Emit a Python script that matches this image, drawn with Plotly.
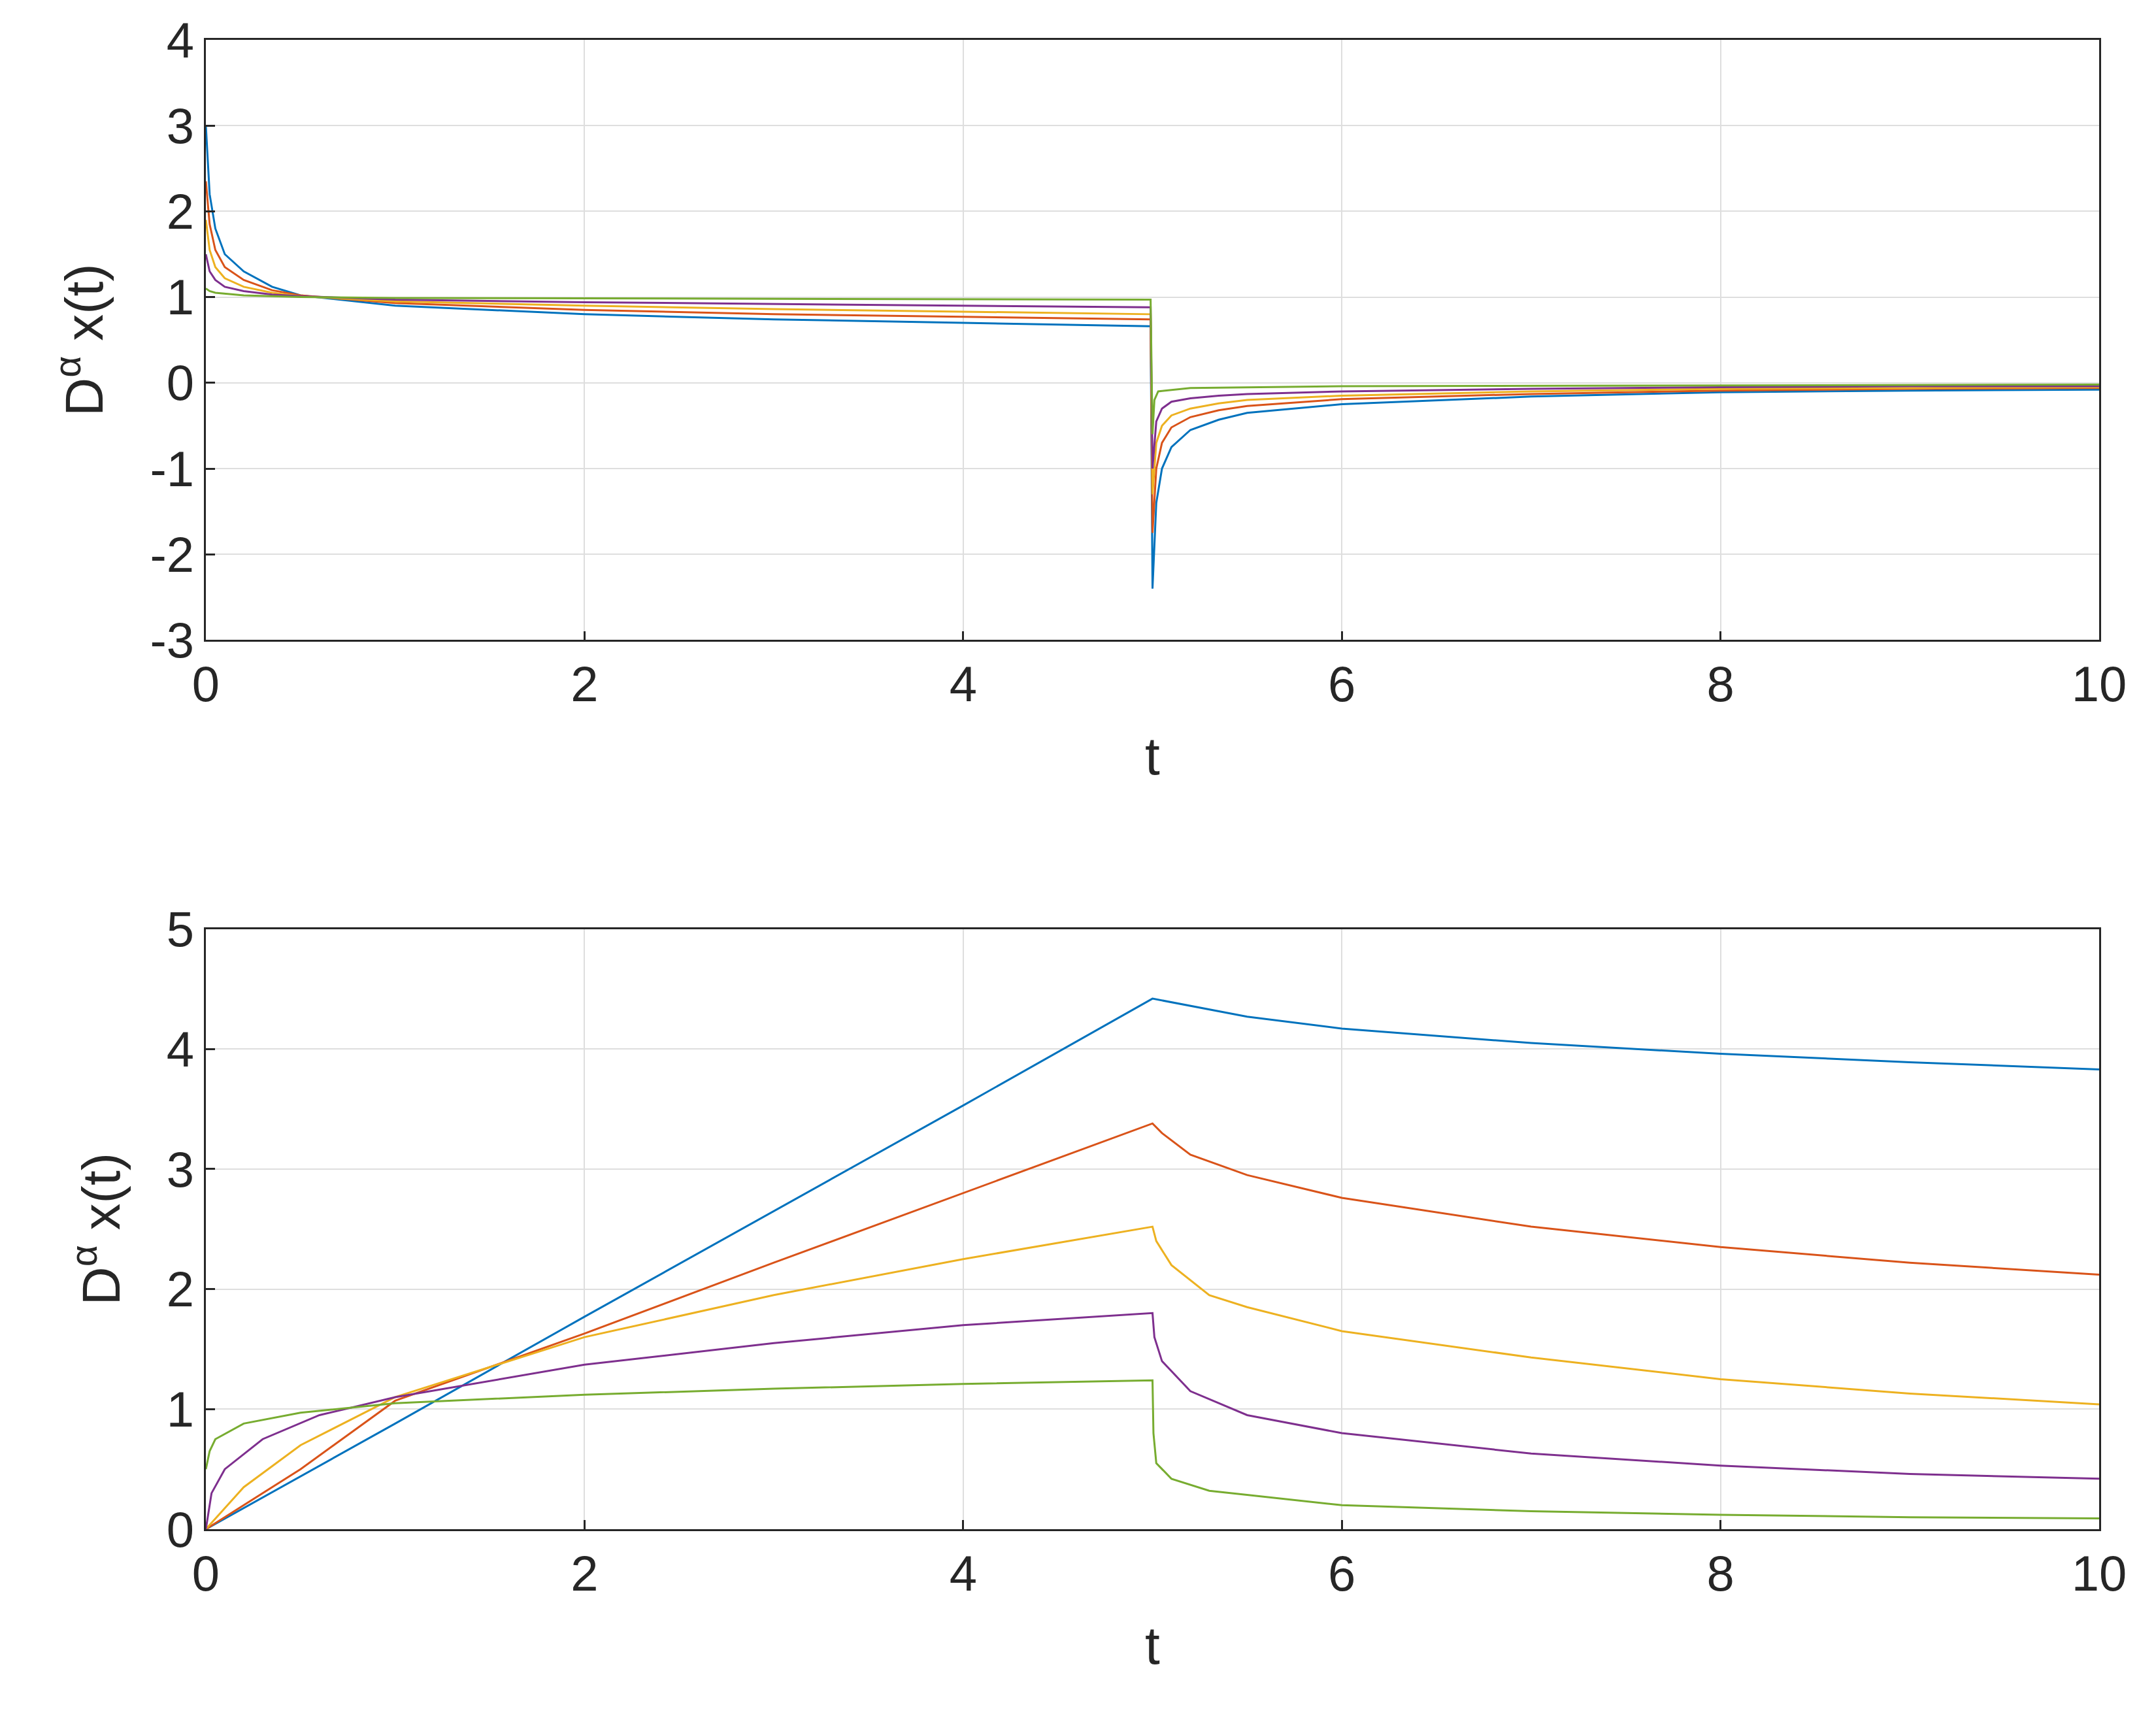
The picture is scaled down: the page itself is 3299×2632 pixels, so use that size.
import plotly.graph_objects as go
from plotly.subplots import make_subplots

colors = ["#0072BD", "#D95319", "#EDB120", "#7E2F8E", "#77AC30"]

# Top panel
top_t = [
    [0, 0.02, 0.05, 0.1, 0.2, 0.35, 0.5, 1, 2, 3, 4, 4.99, 5.0, 5.02, 5.05, 5.1, 5.2, 5.35, 5.5, 6, 7, 8, 9, 10],
    [0, 0.02, 0.05, 0.1, 0.2, 0.35, 0.5, 1, 2, 3, 4, 4.99, 5.0, 5.02, 5.05, 5.1, 5.2, 5.35, 5.5, 6, 7, 8, 9, 10],
    [0, 0.02, 0.05, 0.1, 0.2, 0.35, 0.5, 1, 2, 3, 4, 4.99, 5.0, 5.02, 5.05, 5.1, 5.2, 5.35, 5.5, 6, 7, 8, 9, 10],
    [0, 0.02, 0.05, 0.1, 0.2, 0.35, 0.5, 1, 2, 3, 4, 4.99, 5.0, 5.02, 5.05, 5.1, 5.2, 5.35, 5.5, 6, 7, 8, 9, 10],
    [0, 0.02, 0.05, 0.2, 0.5, 1, 3, 4.99, 5.0, 5.01, 5.03, 5.2, 6, 10],
]
top_y = [
    [3.0, 2.2, 1.8, 1.5, 1.3, 1.12, 1.02, 0.9, 0.8, 0.74, 0.7, 0.66, -2.4, -1.4, -1.0, -0.75, -0.55, -0.43, -0.35, -0.25, -0.16, -0.11, -0.09, -0.08],
    [2.35, 1.85, 1.55, 1.35, 1.2, 1.08, 1.02, 0.93, 0.85, 0.8, 0.77, 0.74, -1.75, -1.0, -0.7, -0.52, -0.4, -0.32, -0.27, -0.19, -0.13, -0.09, -0.07, -0.06],
    [1.9, 1.55, 1.35, 1.22, 1.12, 1.05, 1.01, 0.95, 0.9, 0.86, 0.83, 0.8, -1.3, -0.7, -0.5, -0.38, -0.3, -0.24, -0.2, -0.15, -0.1, -0.07, -0.06, -0.05],
    [1.5, 1.3, 1.2, 1.12, 1.07, 1.03, 1.01, 0.97, 0.94, 0.92, 0.9, 0.88, -1.0, -0.45, -0.3, -0.22, -0.18, -0.15, -0.13, -0.1, -0.07, -0.05, -0.04, -0.04],
    [1.1, 1.07, 1.05, 1.02, 1.0, 0.99, 0.98, 0.97, -0.6, -0.2, -0.1, -0.06, -0.04, -0.02],
]

# Bottom panel
bot_t = [
    [0, 1, 2, 3, 4, 5, 5.5, 6, 7, 8, 9, 10],
    [0, 0.5, 1, 2, 3, 4, 5, 5.05, 5.2, 5.5, 6, 7, 8, 9, 10],
    [0, 0.2, 0.5, 1, 2, 3, 4, 5, 5.02, 5.1, 5.3, 5.5, 6, 7, 8, 9, 10],
    [0, 0.03, 0.1, 0.3, 0.6, 1, 2, 3, 4, 5, 5.01, 5.05, 5.2, 5.5, 6, 7, 8, 9, 10],
    [0, 0.02, 0.05, 0.2, 0.5, 1, 2, 3, 4, 5, 5.005, 5.02, 5.1, 5.3, 6, 7, 8, 9, 10],
]
bot_y = [
    [0, 0.88, 1.77, 2.65, 3.53, 4.42, 4.27, 4.17, 4.05, 3.96, 3.89, 3.83],
    [0, 0.5, 1.07, 1.63, 2.22, 2.8, 3.38, 3.3, 3.12, 2.95, 2.76, 2.52, 2.35, 2.22, 2.12],
    [0, 0.35, 0.7, 1.1, 1.6, 1.95, 2.25, 2.52, 2.4, 2.2, 1.95, 1.85, 1.65, 1.43, 1.25, 1.13, 1.04],
    [0, 0.3, 0.5, 0.75, 0.95, 1.1, 1.37, 1.55, 1.7, 1.8, 1.6, 1.4, 1.15, 0.95, 0.8, 0.63, 0.53, 0.46, 0.42],
    [0.5, 0.65, 0.75, 0.88, 0.97, 1.05, 1.12, 1.17, 1.21, 1.24, 0.8, 0.55, 0.42, 0.32, 0.2, 0.15, 0.12, 0.1, 0.09],
]

x_ticks = [0, 2, 4, 6, 8, 10]
top_ticks = [-3, -2, -1, 0, 1, 2, 3, 4]
top_ticklabels = ["-3", "-2", "-1", "0", "1", "2", "3", "4"]
bot_ticks = [0, 1, 2, 3, 4, 5]

fig = make_subplots(rows=2, cols=1, vertical_spacing=0.194)
for i in range(5):
    fig.add_trace(go.Scatter(x=top_t[i], y=top_y[i], mode="lines",
                             line=dict(color=colors[i], width=3), showlegend=False), row=1, col=1)
    fig.add_trace(go.Scatter(x=bot_t[i], y=bot_y[i], mode="lines",
                             line=dict(color=colors[i], width=3), showlegend=False), row=2, col=1)

font = dict(family="Liberation Sans, Arial", size=76, color="#262626")
axstyle = dict(showline=True, linecolor="#262626", linewidth=2.5, mirror=True, ticks="inside",
               ticklen=14, tickwidth=2.5, tickcolor="#262626", showgrid=True, gridcolor="#dedede",
               gridwidth=2, zeroline=False, tickfont=font)
for r in (1, 2):
    fig.update_xaxes(range=[0, 10], tickvals=x_ticks, ticktext=[str(v) for v in x_ticks],
                     title=dict(text="t", font=dict(size=82, color="#262626"), standoff=40),
                     **axstyle, row=r, col=1)
fig.update_yaxes(range=[-3, 4], tickvals=top_ticks, ticktext=top_ticklabels, row=1, col=1, **axstyle,
                 title=dict(text="D<sup>α</sup> x(t)", font=dict(size=82, color="#262626"), standoff=45))
fig.update_yaxes(range=[0, 5], tickvals=bot_ticks, ticktext=[str(v) for v in bot_ticks], row=2, col=1, **axstyle,
                 title=dict(text="D<sup>α</sup> x(t)", font=dict(size=82, color="#262626"), standoff=45))
fig.update_layout(width=3299, height=2632, plot_bgcolor="white", paper_bgcolor="white",
                  margin=dict(l=307, r=95, t=53, b=300), font=font)
fig.write_html("out.html")
